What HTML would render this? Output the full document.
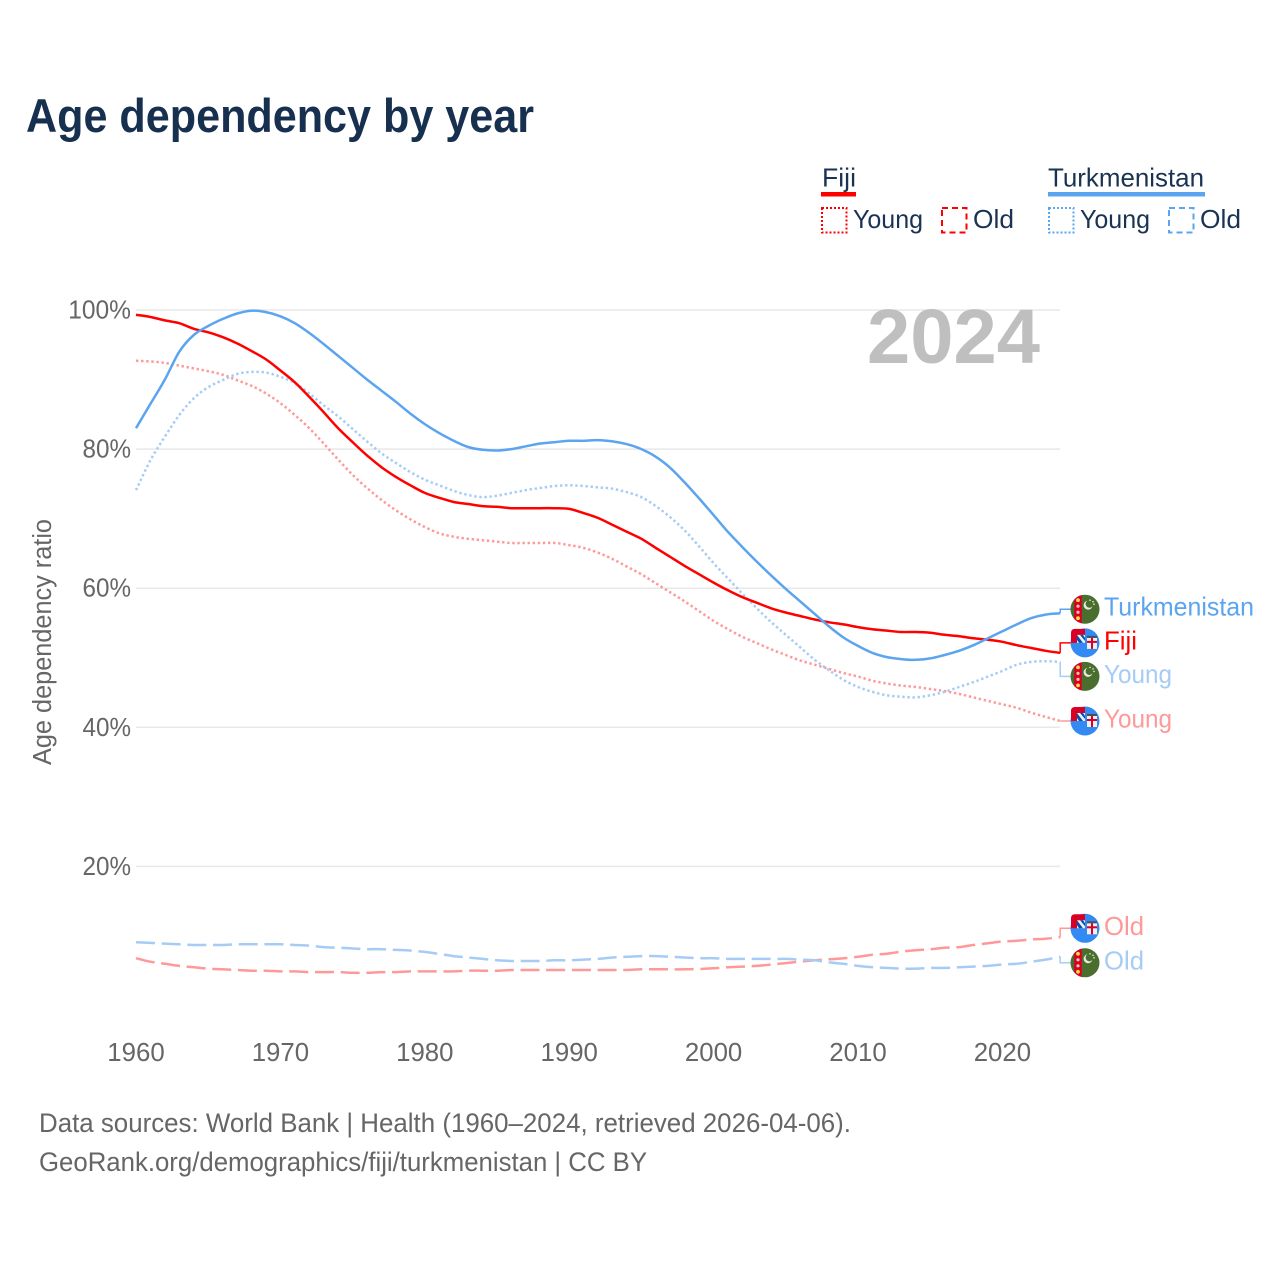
<!DOCTYPE html>
<html lang="en">
<head>
<meta charset="utf-8">
<title>Age dependency by year</title>
<style>
html,body{margin:0;padding:0;background:#fff;}
svg{display:block;font-family:"Liberation Sans",sans-serif;}
.lg{font-size:26px;fill:#1a3353;}
.foot{font-size:26.5px;fill:#666;}
.end{font-size:26px;}
.tick{font-size:25.8px;fill:#666;}
</style>
</head>
<body>
<svg id="chart" width="1280" height="1280" viewBox="0 0 1280 1280" xmlns="http://www.w3.org/2000/svg">
<defs>
<clipPath id="flag-clip"><circle cx="0" cy="0" r="14.5"/></clipPath>
<g id="flag-tm" clip-path="url(#flag-clip)">
  <rect x="-15" y="-15" width="30" height="30" fill="#496e2d"/>
  <rect x="-10.8" y="-15" width="7.6" height="30" fill="#d80027"/>
  <circle cx="-7" cy="-9" r="1.9" fill="#ffda44"/>
  <circle cx="-7" cy="-3" r="1.6" fill="#f3c6a5"/>
  <circle cx="-7" cy="3" r="1.6" fill="#f3c6a5"/>
  <circle cx="-7" cy="9" r="1.9" fill="#ffda44"/>
  <path d="M2.5,-8.5 A4.5,4.5 0 1 0 7.5,-3 A3.8,3.8 0 1 1 2.5,-8.5Z" fill="#e6ecdc"/>
  <circle cx="5" cy="-9" r="0.8" fill="#e6ecdc"/>
  <circle cx="8" cy="-7.5" r="0.8" fill="#e6ecdc"/>
  <circle cx="9" cy="-5" r="0.8" fill="#e6ecdc"/>
</g>
<g id="flag-fj">
  <circle cx="0" cy="0" r="14.5" fill="#338af3"/>
  <path d="M-14,-1 V-10 Q-14,-14 -10,-14 H0 V0 H-14Z" fill="#d80027"/>
  <rect x="-8" y="-8" width="8" height="8" fill="#f0f0f0"/>
  <path d="M-8,-8 L-2,0 H-6 L-8,-3Z" fill="#0052b4"/>
  <path d="M-5,-8 L0,-2 V-5 L-2,-8Z" fill="#0052b4"/>
  <rect x="2" y="-5" width="10" height="11" fill="#f0f0f0"/>
  <rect x="6" y="-5" width="2" height="11" fill="#d80027"/>
  <rect x="2" y="-2" width="10" height="2" fill="#d80027"/>
  <rect x="2" y="-7" width="10" height="2" fill="#4a3a1a" opacity="0.7"/>
</g>
</defs>

<text x="26" y="132" font-size="47" font-weight="bold" fill="#17304f" textLength="508" lengthAdjust="spacingAndGlyphs">Age dependency by year</text>

<g>
  <g>
    <text class="lg" x="822" y="186.5" textLength="34" lengthAdjust="spacingAndGlyphs">Fiji</text>
    <rect x="821" y="192" width="35" height="4.5" fill="#ff0000"/>
    <rect x="822" y="208" width="24.5" height="24.5" fill="none" stroke="#ff0000" stroke-width="2" stroke-dasharray="2 2"/>
    <text class="lg" x="853" y="228" textLength="70" lengthAdjust="spacingAndGlyphs">Young</text>
    <rect x="942" y="208" width="24.5" height="24.5" fill="none" stroke="#ff0000" stroke-width="2" stroke-dasharray="6 4"/>
    <text class="lg" x="973" y="228" textLength="41" lengthAdjust="spacingAndGlyphs">Old</text>
  </g>
  <g>
    <text class="lg" x="1048" y="186.5" textLength="156" lengthAdjust="spacingAndGlyphs">Turkmenistan</text>
    <rect x="1048" y="192" width="157" height="4.5" fill="#5ba4f0"/>
    <rect x="1049" y="208" width="24.5" height="24.5" fill="none" stroke="#5ba4f0" stroke-width="2" stroke-dasharray="2 2"/>
    <text class="lg" x="1080" y="228" textLength="70" lengthAdjust="spacingAndGlyphs">Young</text>
    <rect x="1169" y="208" width="24.5" height="24.5" fill="none" stroke="#5ba4f0" stroke-width="2" stroke-dasharray="6 4"/>
    <text class="lg" x="1200" y="228" textLength="41" lengthAdjust="spacingAndGlyphs">Old</text>
  </g>
</g>

<g id="grid"></g>
<g id="yticks"></g>
<g id="xticks"></g>

<text transform="translate(51,642) rotate(-90)" text-anchor="middle" font-size="25.5" fill="#666" textLength="246" lengthAdjust="spacingAndGlyphs">Age dependency ratio</text>

<text x="1040" y="363" text-anchor="end" font-size="77" font-weight="bold" fill="#bfbfbf" textLength="173" lengthAdjust="spacingAndGlyphs">2024</text>

<g id="lines"></g>

<g id="end-tm-total">
  <use href="#flag-tm" x="1085" y="0"/>
  <text class="end" x="1104" y="6.5" fill="#5ba4f0" textLength="150" lengthAdjust="spacingAndGlyphs">Turkmenistan</text>
</g>
<g id="end-fj-young">
  <use href="#flag-fj" x="1085" y="0"/>
  <text class="end" x="1104" y="6.5" fill="#ff9999" textLength="68" lengthAdjust="spacingAndGlyphs">Young</text>
</g>
<g id="end-tm-young">
  <use href="#flag-tm" x="1085" y="0"/>
  <text class="end" x="1104" y="6.5" fill="#a6ccf6" textLength="68" lengthAdjust="spacingAndGlyphs">Young</text>
</g>
<g id="end-fj-total">
  <use href="#flag-fj" x="1085" y="0"/>
  <text class="end" x="1104" y="6.5" fill="#ff0000" textLength="33" lengthAdjust="spacingAndGlyphs">Fiji</text>
</g>
<g id="end-fj-old">
  <use href="#flag-fj" x="1085" y="0"/>
  <text class="end" x="1104" y="6.5" fill="#ff9999" textLength="40" lengthAdjust="spacingAndGlyphs">Old</text>
</g>
<g id="end-tm-old">
  <use href="#flag-tm" x="1085" y="0"/>
  <text class="end" x="1104" y="6.5" fill="#a6ccf6" textLength="40" lengthAdjust="spacingAndGlyphs">Old</text>
</g>

<text class="foot" x="39" y="1132" textLength="812" lengthAdjust="spacingAndGlyphs">Data sources: World Bank | Health (1960–2024, retrieved 2026-04-06).</text>
<text class="foot" x="39" y="1171" textLength="608" lengthAdjust="spacingAndGlyphs">GeoRank.org/demographics/fiji/turkmenistan | CC BY</text>
</svg>

<script>
const startYear = 1960;
const yTickValues = [20, 40, 60, 80, 100];
const xTickValues = [1960, 1970, 1980, 1990, 2000, 2010, 2020];

const fijiTotal = [99.3,99,98.5,98.1,97.3,96.8,96.1,95.2,94.1,92.9,91.3,89.6,87.5,85.3,83,81,79.1,77.4,76,74.8,73.7,73,72.4,72.1,71.8,71.7,71.5,71.5,71.5,71.5,71.4,70.8,70.1,69.1,68.1,67.1,65.8,64.5,63.2,62,60.8,59.7,58.7,57.9,57.1,56.5,56,55.5,55.1,54.8,54.4,54.1,53.9,53.7,53.7,53.6,53.3,53.1,52.8,52.6,52.3,51.8,51.4,51,50.7];
const turkmenistanTotal = [83,86.5,90,94,96.4,97.7,98.7,99.5,99.9,99.7,99.1,98.1,96.7,95.1,93.4,91.7,90,88.4,86.8,85.1,83.6,82.3,81.2,80.3,79.9,79.8,80,80.4,80.8,81,81.2,81.2,81.3,81.1,80.7,80,78.9,77.3,75.2,72.9,70.5,68.1,65.9,63.8,61.8,59.9,58.1,56.3,54.5,52.9,51.7,50.7,50.1,49.8,49.7,49.9,50.4,51,51.8,52.8,53.8,54.8,55.7,56.2,56.4];
const fijiYoung = [92.7,92.6,92.4,92,91.6,91.2,90.7,89.9,89.1,88,86.6,84.9,83,80.8,78.5,76.3,74.4,72.7,71.2,69.9,68.8,67.9,67.4,67.1,66.9,66.7,66.5,66.5,66.5,66.5,66.2,65.8,65.1,64.2,63.1,62,60.7,59.4,58.1,56.7,55.3,54.1,53,52.1,51.2,50.4,49.6,49,48.4,47.8,47.3,46.7,46.3,46,45.8,45.5,45.2,44.8,44.3,43.8,43.3,42.8,42.1,41.5,40.9];
const turkmenistanYoung = [74.1,78.4,81.8,84.9,87.3,88.9,89.9,90.8,91.1,91,90.4,89.5,88,86.3,84.7,82.9,81.1,79.4,78,76.7,75.6,74.8,74,73.4,73.1,73.3,73.7,74.1,74.4,74.7,74.8,74.7,74.5,74.3,73.8,73.1,71.8,70.2,68.3,66,63.6,61.4,59.2,57.1,55.1,53.3,51.5,49.7,48.2,46.8,45.8,45.1,44.6,44.4,44.3,44.6,45.1,45.8,46.5,47.3,48.1,49,49.4,49.5,49.4];
const fijiOld = [6.8,6.3,6,5.7,5.5,5.3,5.2,5.1,5,5,4.9,4.9,4.8,4.8,4.8,4.7,4.7,4.8,4.8,4.9,4.9,4.9,4.9,5,5,5,5.1,5.1,5.1,5.1,5.1,5.1,5.1,5.1,5.1,5.2,5.2,5.2,5.2,5.25,5.35,5.5,5.6,5.7,5.9,6.1,6.3,6.5,6.64,6.78,7,7.3,7.45,7.75,7.95,8.1,8.3,8.4,8.7,8.95,9.2,9.3,9.5,9.6,9.8];
const turkmenistanOld = [9.1,9,8.9,8.8,8.7,8.7,8.7,8.8,8.8,8.8,8.8,8.7,8.6,8.4,8.3,8.2,8.1,8.1,8,7.9,7.7,7.4,7.1,6.9,6.7,6.5,6.4,6.4,6.4,6.5,6.5,6.6,6.7,6.9,7,7.1,7.1,7,6.9,6.8,6.8,6.7,6.7,6.7,6.7,6.7,6.6,6.5,6.2,6,5.7,5.5,5.4,5.3,5.3,5.4,5.4,5.5,5.6,5.7,5.9,6,6.3,6.6,7];

const svgNS = 'http://www.w3.org/2000/svg';
const xScale = function (year) { return 136 + (year - 1960) * 14.44; };
const yScale = function (v) { return 1005.5 - v * 6.955; };

const grid = document.getElementById('grid');
const yticks = document.getElementById('yticks');
const xticks = document.getElementById('xticks');
const linesGroup = document.getElementById('lines');

yTickValues.forEach(function (v) {
  const ln = document.createElementNS(svgNS, 'line');
  
  
  ln.setAttribute('x1', xScale(1960));
  ln.setAttribute('x2', xScale(2024));
  ln.setAttribute('y1', yScale(v));
  ln.setAttribute('y2', yScale(v));
  ln.setAttribute('stroke', '#e8e8e8');
  ln.setAttribute('stroke-width', '1.5');
  grid.appendChild(ln);
  const t = document.createElementNS(svgNS, 'text');
  
  
  t.setAttribute('class', 'tick');
  t.setAttribute('x', 131);
  t.setAttribute('y', yScale(v) + 8.5);
  t.setAttribute('text-anchor', 'end');
  t.setAttribute('textLength', String(v).length * 14.25 + 20);
  t.setAttribute('lengthAdjust', 'spacingAndGlyphs');
  t.textContent = v + '%';
  yticks.appendChild(t);
});

xTickValues.forEach(function (yr) {
  const t = document.createElementNS(svgNS, 'text');
  
  
  t.setAttribute('class', 'tick');
  t.setAttribute('x', xScale(yr));
  t.setAttribute('y', 1061);
  t.setAttribute('text-anchor', 'middle');
  t.textContent = yr;
  xticks.appendChild(t);
});

function smoothPath(pts) {
  let d = 'M' + pts[0][0].toFixed(1) + ',' + pts[0][1].toFixed(1);
  for (let i = 0; i < pts.length - 1; i++) {
    const p0 = pts[Math.max(i - 1, 0)];
    const p1 = pts[i];
    const p2 = pts[i + 1];
    const p3 = pts[Math.min(i + 2, pts.length - 1)];
    d += 'C' + (p1[0] + (p2[0] - p0[0]) / 6).toFixed(1) + ',' + (p1[1] + (p2[1] - p0[1]) / 6).toFixed(1) +
         ' ' + (p2[0] - (p3[0] - p1[0]) / 6).toFixed(1) + ',' + (p2[1] - (p3[1] - p1[1]) / 6).toFixed(1) +
         ' ' + p2[0].toFixed(1) + ',' + p2[1].toFixed(1);
  }
  return d;
}

function drawSeries(values, color, width, dash, labelOffset, labelId, name) {
  const pts = values.map(function (v, i) { return [xScale(startYear + i), yScale(v)]; });
  const lastY = yScale(values[values.length - 1]);
  const labelY = lastY + labelOffset;
  const p = document.createElementNS(svgNS, 'path');
  
  
  p.setAttribute('d', smoothPath(pts));
  p.setAttribute('fill', 'none');
  p.setAttribute('stroke', color);
  p.setAttribute('stroke-width', width);
  p.setAttribute('stroke-linejoin', 'round');
  if (dash) { p.setAttribute('stroke-dasharray', dash); }
  linesGroup.appendChild(p);
  const lead = document.createElementNS(svgNS, 'path');
  
  
  lead.setAttribute('d', 'M' + xScale(2024).toFixed(1) + ',' + lastY.toFixed(1) + 'V' + labelY.toFixed(1) + 'H1072');
  lead.setAttribute('fill', 'none');
  lead.setAttribute('stroke', color);
  lead.setAttribute('stroke-width', '1.5');
  linesGroup.appendChild(lead);
  document.getElementById(labelId).setAttribute('transform', 'translate(0,' + labelY.toFixed(1) + ')');
}

drawSeries(fijiOld, '#ff9999', 2.5, '19 6.7', -9, 'end-fj-old', 'line-fiji-old');
drawSeries(turkmenistanOld, '#a6ccf6', 2.5, '19 6.7', 6, 'end-tm-old', 'line-turkmenistan-old');
drawSeries(fijiYoung, '#ff9999', 2.5, '2.4 2.7', 0, 'end-fj-young', 'line-fiji-young');
drawSeries(turkmenistanYoung, '#a6ccf6', 2.5, '2.4 2.7', 14.5, 'end-tm-young', 'line-turkmenistan-young');
drawSeries(fijiTotal, '#ff0000', 2.5, '', -10, 'end-fj-total', 'line-fiji-total');
drawSeries(turkmenistanTotal, '#5ba4f0', 2.5, '', -4, 'end-tm-total', 'line-turkmenistan-total');
</script>
</body>
</html>
